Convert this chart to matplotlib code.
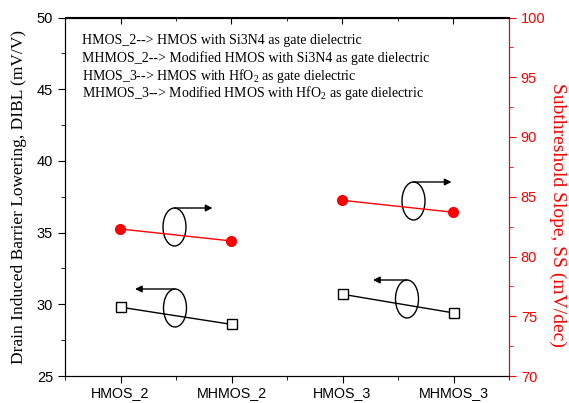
import matplotlib.pyplot as plt
from matplotlib.patches import Ellipse

devices = ['HMOS_2', 'MHMOS_2', 'HMOS_3', 'MHMOS_3']
dibl = [29.8, 28.6, 30.7, 29.4]     # mV/V, left axis
ss = [82.3, 81.3, 84.7, 83.7]       # mV/dec, right axis
notes = ['HMOS_2--> HMOS with Si3N4 as gate dielectric',
         'MHMOS_2--> Modified HMOS with Si3N4 as gate dielectric',
         'HMOS_3--> HMOS with HfO$_2$ as gate dielectric',
         'MHMOS_3--> Modified HMOS with HfO$_2$ as gate dielectric']

serif = {'family': 'Liberation Serif'}
sans = 'Liberation Sans'
plt.rcParams['mathtext.fontset'] = 'custom'
plt.rcParams['mathtext.rm'] = 'Liberation Serif'

W, H = 569, 403
fig = plt.figure(figsize=(W/100, H/100), dpi=100)
ax = fig.add_axes([65/W, 27/H, 444/W, 358.5/H])
ax2 = ax.twinx()

xs = [0.5, 1.5, 2.5, 3.5]
# lines joined per gate dielectric
ax.plot(xs[0:2], dibl[0:2], color='black', lw=1, marker='s', ms=6.5,
        mfc='white', mec='black', mew=1)
ax.plot(xs[2:4], dibl[2:4], color='black', lw=1, marker='s', ms=6.5,
        mfc='white', mec='black', mew=1)
ax2.plot(xs[0:2], ss[0:2], color='red', lw=1, marker='o', ms=7)
ax2.plot(xs[2:4], ss[2:4], color='red', lw=1, marker='o', ms=7)

ax.set_xlim(0, 4)
ax.set_ylim(25, 50)
ax2.set_ylim(70, 100)
ax.set_xticks(xs)
ax.set_xticklabels(devices, fontname=sans, fontsize=10.3)
ax.set_xticks([0, 1, 2, 3, 4], minor=True)
ax.set_yticks([25, 30, 35, 40, 45, 50])
ax.set_yticks([27.5, 32.5, 37.5, 42.5, 47.5], minor=True)
ax2.set_yticks([70, 75, 80, 85, 90, 95, 100])
ax2.set_yticks([72.5, 77.5, 82.5, 87.5, 92.5, 97.5], minor=True)
for lab in ax.get_yticklabels():
    lab.set_fontname(sans); lab.set_fontsize(10.5)
for lab in ax2.get_yticklabels():
    lab.set_fontname(sans); lab.set_fontsize(10.5); lab.set_color('red')

ax.tick_params(axis='both', which='both', direction='out')
ax.tick_params(which='major', length=5)
ax.tick_params(which='minor', length=3)
ax.tick_params(axis='x', pad=2)
ax2.tick_params(axis='y', which='both', direction='out', colors='red')
ax2.tick_params(which='major', length=5)
ax2.tick_params(which='minor', length=3)
ax2.spines['right'].set_color('red')

# inward ticks on top edge
top = ax.secondary_xaxis('top')
top.set_xticks(xs)
top.set_xticks([0, 1, 2, 3, 4], minor=True)
top.tick_params(which='both', direction='in', labeltop=False)
top.tick_params(which='major', length=5)
top.tick_params(which='minor', length=3)

ax.set_ylabel('Drain Induced Barrier Lowering, DIBL (mV/V)', fontdict=serif, fontsize=12.5)
ax.yaxis.set_label_coords(-0.086, 0.5)
ax2.set_ylabel('Subthreshold Slope, SS (mV/dec)', fontdict=serif, fontsize=14,
               color='red', rotation=270)
ax2.yaxis.set_label_coords(1.128, 0.45)

for i, t in enumerate(notes):
    ax.text(0.038, 0.937 - i*0.0495, t, transform=ax.transAxes, fontdict=serif,
            fontsize=10, va='center')

# ellipses with arrows pointing to their axis
ew, eh = 23/444, 38/358.5
def loop(x, y, dx):
    ax.add_patch(Ellipse((x, y), ew, eh, transform=ax.transAxes,
                         fill=False, ec='black', lw=1, zorder=5))
    ax.annotate('', xy=(x+dx, y+eh/2), xytext=(x, y+eh/2), xycoords='axes fraction',
                arrowprops=dict(arrowstyle='-|>', color='black', lw=1,
                                mutation_scale=10, shrinkA=0, shrinkB=0))

loop((174.5-65)/444, (376-227)/358.5, 38/444)
loop((175-65)/444, (376-308)/358.5, -40/444)
loop((413.5-65)/444, (376-201)/358.5, 38/444)
loop((407-65)/444, (376-299)/358.5, -34/444)

fig.savefig('out.png', dpi=100)
